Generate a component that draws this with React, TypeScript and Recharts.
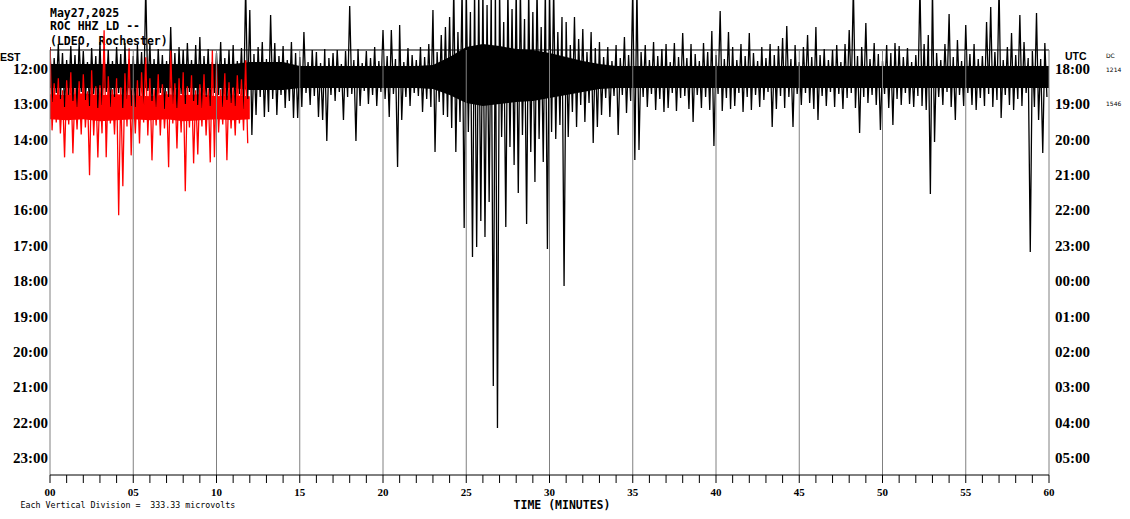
import React from 'react';
import { ComposedChart, Line, Area, XAxis, YAxis, ReferenceLine } from 'recharts';

// row labels (one row = one hour of record, 60 minutes wide)
const rowHours = [12, 13, 14, 15, 16, 17, 18, 19, 20, 21, 22, 23];
const estLabels = ['12:00', '13:00', '14:00', '15:00', '16:00', '17:00', '18:00', '19:00', '20:00', '21:00', '22:00', '23:00'];
const utcLabels = ['18:00', '19:00', '20:00', '21:00', '22:00', '23:00', '00:00', '01:00', '02:00', '03:00', '04:00', '05:00'];
const minuteTicks = [0, 1, 2, 3, 4, 5, 6, 7, 8, 9, 10, 11, 12, 13, 14, 15, 16, 17, 18, 19, 20, 21, 22, 23, 24, 25, 26, 27, 28, 29, 30,
  31, 32, 33, 34, 35, 36, 37, 38, 39, 40, 41, 42, 43, 44, 45, 46, 47, 48, 49, 50, 51, 52, 53, 54, 55, 56, 57, 58, 59, 60];
const minuteLabels = ['00', '05', '10', '15', '20', '25', '30', '35', '40', '45', '50', '55', '60'];
const gridMinutes = [0, 5, 10, 15, 20, 25, 30, 35, 40, 45, 50, 55, 60];

// amplitudes: 35.36 units = one vertical division (333.33 microvolts)
const ROW_UNITS = 35.36;
const BIN = 0.25; // minutes per bin

// 12:00 row (black): largest swing up / down in each 15 s bin
const blackUp = [
  30, 19, 33, 24, 17, 31, 22, 34, 26, 15, 29, 21, 35, 20, 27, 16, 30, 23, 34, 18,
  21, 32, 25, 90, 33, 18, 28, 22, 16, 50, 24, 30, 27, 34, 17, 32, 40, 21, 28, 15,
  24, 35, 19, 27, 32, 16, 29, 90, 67, 23, 30, 35, 18, 62, 34, 21, 31, 17, 35, 24,
  20, 45, 15, 27, 25, 14, 28, 19, 24, 27, 13, 26, 71, 17, 28, 14, 26, 19, 30, 16,
  47, 21, 47, 18, 52, 15, 29, 22, 17, 30, 20, 33, 67, 25, 42, 50, 60, 90, 45, 90,
  90, 65, 90, 90, 90, 72, 85, 90, 90, 55, 90, 68, 90, 90, 58, 90, 65, 90, 50, 90,
  90, 90, 45, 60, 55, 32, 60, 38, 48, 25, 45, 29, 35, 20, 30, 16, 32, 19, 40, 22,
  90, 90, 25, 32, 17, 35, 21, 28, 33, 15, 34, 20, 44, 19, 33, 23, 16, 34, 25, 46,
  22, 66, 18, 45, 30, 17, 33, 21, 44, 24, 16, 30, 19, 33, 22, 31, 39, 51, 18, 32,
  15, 30, 42, 20, 50, 22, 28, 17, 27, 32, 15, 33, 47, 90, 21, 30, 54, 18, 34, 23,
  16, 32, 24, 34, 31, 20, 29, 15, 22, 90, 33, 42, 90, 24, 17, 33, 63, 20, 37, 16,
  52, 23, 33, 18, 21, 55, 70, 25, 90, 17, 30, 44, 22, 62, 35, 19, 26, 64, 18, 34,
];
const blackDown = [
  25, 16, 22, 30, 18, 24, 30, 15, 23, 29, 17, 31, 28, 15, 30, 20, 16, 31, 22, 29,
  30, 19, 28, 14, 24, 30, 16, 32, 20, 27, 31, 17, 27, 15, 24, 28, 31, 20, 29, 16,
  18, 30, 23, 26, 29, 17, 32, 22, 58, 38, 20, 40, 35, 22, 38, 18, 31, 24, 41, 41,
  30, 16, 28, 19, 40, 43, 64, 18, 24, 15, 43, 20, 17, 64, 29, 14, 27, 18, 29, 15,
  22, 40, 17, 90, 43, 20, 29, 16, 19, 35, 22, 30, 75, 25, 38, 40, 51, 75, 45, 151,
  55, 180, 170, 144, 160, 125, 309, 351, 60, 150, 70, 88, 116, 58, 147, 75, 105, 62, 85, 172,
  55, 62, 48, 209, 60, 35, 50, 28, 45, 26, 66, 50, 38, 21, 40, 19, 58, 18, 36, 24,
  83, 73, 20, 30, 17, 33, 22, 35, 31, 16, 34, 21, 19, 32, 45, 18, 31, 20, 33, 69,
  17, 34, 21, 32, 29, 16, 35, 20, 33, 18, 30, 23, 15, 50, 32, 19, 31, 20, 50, 17,
  28, 16, 26, 32, 43, 19, 29, 15, 30, 17, 32, 21, 16, 31, 56, 20, 26, 18, 28, 53,
  17, 31, 48, 22, 28, 16, 27, 30, 19, 29, 33, 117, 65, 20, 28, 15, 30, 43, 18, 29,
  16, 28, 33, 21, 29, 17, 30, 23, 41, 18, 28, 33, 22, 29, 16, 175, 30, 43, 76, 20,
];
// dense centre of the black trace, per minute
const blackCoreUp = [
  13, 13, 13, 13, 13, 13, 13, 13, 13, 13, 13, 13, 15, 15, 15, 11, 11, 11, 11, 11,
  11, 11, 11, 12, 20, 30, 33, 31, 28, 27, 24, 20, 16, 13, 11, 11, 11, 11, 11, 11,
  11, 11, 11, 11, 11, 11, 11, 11, 11, 11, 11, 11, 11, 11, 11, 11, 11, 11, 11, 11, 11,
];
const blackCoreDown = [
  11, 11, 11, 11, 11, 11, 11, 11, 11, 11, 11, 11, 13, 13, 13, 11, 11, 11, 11, 11,
  11, 11, 11, 12, 18, 26, 29, 27, 25, 24, 21, 18, 15, 12, 11, 11, 11, 11, 11, 11,
  11, 11, 11, 11, 11, 11, 11, 11, 11, 11, 11, 11, 11, 11, 11, 11, 11, 11, 11, 11, 11,
];

// 13:00 row (red, still being recorded): first 12 minutes
const redUp = [
  61, 25, 30, 18, 28, 36, 20, 27, 34, 17, 38, 22, 23, 78, 32, 19, 30, 21, 35, 60,
  20, 28, 36, 51, 30, 19, 34, 24, 17, 58, 25, 30, 36, 22, 33, 18, 24, 34, 20, 58,
  45, 19, 35, 26, 21, 33, 29, 48,
];
const redDown = [
  22, 14, 25, 49, 16, 45, 21, 26, 19, 67, 27, 49, 25, 49, 15, 26, 107, 78, 18, 47,
  25, 35, 14, 27, 52, 17, 27, 20, 59, 15, 40, 24, 83, 19, 55, 46, 18, 27, 54, 49,
  24, 16, 52, 20, 27, 15, 22, 35,
];
const redCoreUp = [14, 13, 15, 13, 14, 13, 12, 14, 13, 14, 12, 13, 12];
const redCoreDown = [11, 12, 11, 13, 12, 11, 12, 11, 13, 12, 11, 12, 11];

// trace centre offsets below the row line
const blackDc = 8;
const redDc = 4;

const Y_MIN = 10.0487;
const Y_MAX = 23.482;
const TOP_LINE = 11.4627;

const zigzag = (row: number, dc: number, up: number[], down: number[]) => {
  const pts: { t: number; v: number }[] = [];
  up.forEach((u, i) => {
    pts.push({ t: i * BIN, v: row + (dc - u) / ROW_UNITS });
    pts.push({ t: i * BIN + BIN / 2, v: row + (dc + down[i]) / ROW_UNITS });
  });
  return pts;
};

const core = (row: number, dc: number, up: number[], down: number[]) =>
  up.map((u, i) => ({ t: i, range: [row + (dc - u) / ROW_UNITS, row + (dc + down[i]) / ROW_UNITS] }));

const blackLine = zigzag(12, blackDc, blackUp, blackDown);
const blackCore = core(12, blackDc, blackCoreUp, blackCoreDown);
const redLine = zigzag(13, redDc, redUp, redDown);
const redCore = core(13, redDc, redCoreUp, redCoreDown);

const rowFont: React.CSSProperties = { fontFamily: '"Liberation Serif", serif', fontWeight: 700, fontSize: 15, fill: '#000' };
const monoFont: React.CSSProperties = { fontFamily: '"DejaVu Sans Mono", monospace', fontWeight: 700, fontSize: 11.5, fill: '#000' };
const tinyFont: React.CSSProperties = { fontFamily: '"DejaVu Sans", sans-serif', fontSize: 6, fill: '#000' };

const EstTick = (props: any) => (
  <text x={48} y={props.y + 5} textAnchor="end" style={rowFont}>{estLabels[props.index]}</text>
);
const UtcTick = (props: any) => (
  <text x={1055} y={props.y + 5} textAnchor="start" style={rowFont}>{utcLabels[props.index]}</text>
);
const MinuteTick = (props: any) => {
  const v = props.payload.value;
  if (v % 5 !== 0) return <g />;
  return (
    <text x={props.x} y={496} textAnchor="middle"
      style={{ fontFamily: '"Liberation Serif", serif', fontWeight: 700, fontSize: 11, fill: '#000' }}>
      {minuteLabels[v / 5]}
    </text>
  );
};

export default function App() {
  return (
    <div style={{ position: 'absolute', left: 0, top: 0, width: 1130, height: 519, background: '#fff' }}>
      <svg width={1130} height={519} style={{ position: 'absolute', left: 0, top: 0 }}>
        <text x={50} y={16.5} style={monoFont}>May27,2025</text>
        <text x={50} y={29.5} style={monoFont}>ROC HHZ LD --</text>
        <text x={50} y={45} style={monoFont}>(LDEO, Rochester)</text>
        <text x={0} y={60.5} style={{ fontFamily: '"Liberation Sans", sans-serif', fontWeight: 700, fontSize: 10.5 }}>EST</text>
        <text x={1065} y={59.5} style={{ fontFamily: '"Liberation Sans", sans-serif', fontWeight: 700, fontSize: 10.5 }}>UTC</text>
        <text x={1106} y={57.5} style={tinyFont}>DC</text>
        <text x={1106} y={72} style={tinyFont}>1214</text>
        <text x={1106} y={106} style={tinyFont}>1546</text>
        <text x={562} y={508.5} textAnchor="middle" style={monoFont}>TIME (MINUTES)</text>
        <text x={20.5} y={507.5} style={{ fontFamily: '"DejaVu Sans Mono", monospace', fontSize: 8.3, whiteSpace: 'pre' }}>
          {'Each Vertical Division =  333.33 microvolts'}
        </text>
      </svg>
      <div style={{ position: 'absolute', left: 0, top: 0 }}>
        <ComposedChart width={1130} height={519} margin={{ top: 0, right: 0, bottom: 0, left: 0 }}>
          <XAxis type="number" dataKey="t" domain={[0, 60]} allowDataOverflow ticks={minuteTicks} interval={0}
            height={44} tickSize={8} tickLine={{ stroke: '#000' }} axisLine={{ stroke: '#000' }} tick={<MinuteTick />} />
          <YAxis yAxisId="est" type="number" domain={[Y_MIN, Y_MAX]} reversed allowDataOverflow ticks={rowHours}
            interval={0} width={50} axisLine={false} tickLine={false} tick={<EstTick />} />
          <YAxis yAxisId="utc" orientation="right" type="number" domain={[Y_MIN, Y_MAX]} reversed allowDataOverflow
            ticks={rowHours} interval={0} width={81} axisLine={false} tickLine={false} tick={<UtcTick />} />
          <Area yAxisId="est" data={blackCore} dataKey="range" type="linear" stroke="none" fill="#000" fillOpacity={1}
            isAnimationActive={false} activeDot={false} />
          <Line yAxisId="est" data={blackLine} dataKey="v" type="linear" stroke="#000" strokeWidth={1.3} dot={false}
            activeDot={false} isAnimationActive={false} />
          <Area yAxisId="est" data={redCore} dataKey="range" type="linear" stroke="none" fill="#ff0000" fillOpacity={1}
            isAnimationActive={false} activeDot={false} />
          <Line yAxisId="est" data={redLine} dataKey="v" type="linear" stroke="#ff0000" strokeWidth={1.3} dot={false}
            activeDot={false} isAnimationActive={false} />
          <ReferenceLine yAxisId="est" y={TOP_LINE} stroke="#000" strokeWidth={1} />
          {gridMinutes.map((m) => (
            <ReferenceLine key={m} yAxisId="est" segment={[{ x: m, y: TOP_LINE }, { x: m, y: Y_MAX }]}
              stroke="#808080" strokeWidth={1} />
          ))}
        </ComposedChart>
      </div>
    </div>
  );
}
